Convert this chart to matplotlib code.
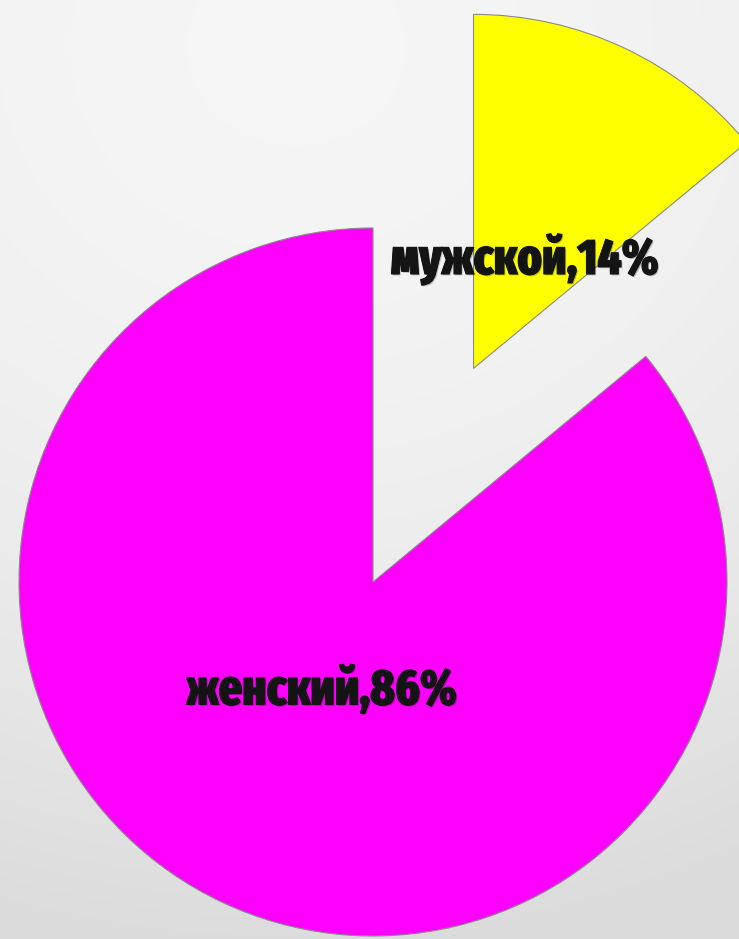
import os
import numpy as np
import matplotlib
matplotlib.use("Agg")
import matplotlib.pyplot as plt
import matplotlib.patheffects as pe
from matplotlib import font_manager

# Gender split of respondents
categories = ["мужской", "женский"]
shares = [14, 86]
colors = ["#ffff00", "#ff00ff"]
explode = [0.667, 0.0]

labels = [f"{c},{v}%" for c, v in zip(categories, shares)]


def pick_condensed_font():
    """Find a heavy narrow face installed; fall back to DejaVu Sans bold."""
    best, best_score = None, -1
    for f in font_manager.fontManager.ttflist:
        base = os.path.basename(f.fname).lower().replace("-", "").replace("_", "")
        name = f.name.lower()
        txt = base + " " + name
        if "italic" in txt or "oblique" in txt:
            continue
        score = 0
        if "extracondensed" in txt:
            score += 30
        elif "semicondensed" in txt:
            score += 15
        elif "condensed" in txt or "narrow" in txt or str(f.stretch).endswith("condensed"):
            score += 22
        else:
            continue
        if "extrabold" in txt:
            score += 6
        elif "black" in txt:
            score += 5
        elif "bold" in txt and "semibold" not in txt:
            score += 4
        elif "semibold" in txt:
            score += 2
        else:
            score -= 10
        if score > best_score:
            best, best_score = f.fname, score
    return best


fname = pick_condensed_font()
if fname:
    fp = font_manager.FontProperties(fname=fname, size=36)
else:
    fp = font_manager.FontProperties(family="DejaVu Sans", weight="bold", size=28)

W, H = 739, 939
fig = plt.figure(figsize=(W / 100, H / 100), dpi=100)

# soft light-grey backdrop, brighter towards the top
bg = fig.add_axes([0, 0, 1, 1])
yy, xx = np.mgrid[0:H, 0:W]
d = np.sqrt(((xx - W * 0.4) / W) ** 2 * 0.5 + ((yy - H * 0.05) / H) ** 2)
shade = 0.962 - 0.10 * np.clip(d / 0.95, 0, 1) ** 2.0
bg.imshow(np.dstack([shade] * 3), aspect="auto", extent=[0, 1, 0, 1])
bg.set_axis_off()

ax = fig.add_axes([0, 0, 1, 1])
ax.patch.set_alpha(0)
wedges, texts = ax.pie(
    shares,
    colors=colors,
    explode=explode,
    startangle=90,
    counterclock=False,
    labels=labels,
    labeldistance=0.34,
    wedgeprops=dict(edgecolor="#8a8a8a", linewidth=0.8),
    textprops=dict(color="#141414"),
)
for t in texts:
    t.set_fontproperties(fp)
    t.set_ha("center")
    t.set_va("center")
    t.set_path_effects([
        pe.SimplePatchShadow(offset=(1.0, -1.0), shadow_rgbFace="#000000", alpha=0.25),
        pe.Stroke(linewidth=0.8, foreground="#141414"),
        pe.Normal(),
    ])

R = 354.0
cx, cy = 373.0, H - 582.0
ax.set_aspect("auto")
ax.set_xlim(-cx / R, (W - cx) / R)
ax.set_ylim(-cy / R, (H - cy) / R)
ax.set_axis_off()

fig.savefig("out.png", dpi=100)
